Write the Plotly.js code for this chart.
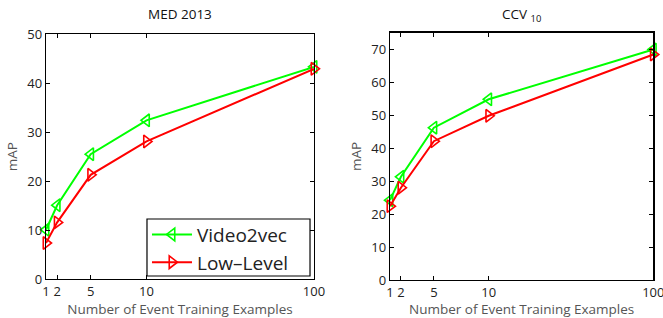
<!DOCTYPE html>
<html><head><meta charset="utf-8">
<script src="https://cdn.plot.ly/plotly-3.0.1.min.js"></script>
<style>html,body{margin:0;padding:0;background:#fff}#c{width:663px;height:318px}</style>
</head><body><div id="c"></div>
<script>
// x positions on the axis (100 drawn at position 25), with tick labels
const xPos = [1, 2, 5, 10, 25];
const xLabels = ['1', '2', '5', '10', '100'];
const medVideo2vec = [10.1, 15.1, 25.5, 32.4, 43.3];
const medLowLevel  = [7.4, 11.6, 21.3, 28.1, 42.9];
const ccvVideo2vec = [24.2, 31.3, 46.2, 54.8, 69.9];
const ccvLowLevel  = [22.4, 28.0, 42.1, 49.8, 68.4];
const seriesNames = ['Video2vec', 'Low\u2013Level'];
const green = '#00ff00', red = '#ff0000';
const font = 'Open Sans, Arial, sans-serif';

function tr(y, name, color, sym, xa, ya, show) {
  return {x: xPos, y: y, name: name, type: 'scatter', mode: 'lines+markers',
    xaxis: xa, yaxis: ya, showlegend: show, cliponaxis: false,
    line: {color: color, width: 2},
    marker: {symbol: sym, size: 11, color: color, line: {color: color, width: 1.6}}};
}
const data = [
  tr(medVideo2vec, seriesNames[0], green, 'triangle-left-open', 'x', 'y', true),
  tr(medLowLevel, seriesNames[1], red, 'triangle-right-open', 'x', 'y', true),
  tr(ccvVideo2vec, seriesNames[0], green, 'triangle-left-open', 'x2', 'y2', false),
  tr(ccvLowLevel, seriesNames[1], red, 'triangle-right-open', 'x2', 'y2', false)
];
function xax(dom, anchor) {
  return {domain: dom, anchor: anchor, range: [1, 25], tickmode: 'array', tickvals: xPos, ticktext: xLabels,
    ticks: 'inside', ticklen: 4, tickcolor: '#000', showline: true, linecolor: '#000', linewidth: 1.2,
    mirror: 'ticks', showgrid: false, zeroline: false, ticklabeloverflow: 'allow',
    tickfont: {family: font, size: 13, color: '#222'},
    title: {text: 'Number of Event Training Examples', font: {family: font, size: 13.5, color: '#555'}, standoff: 3}};
}
function yax(dom, anchor, max) {
  return {domain: dom, anchor: anchor, range: [0, max], dtick: 10, tick0: 0,
    ticks: 'inside', ticklen: 4, tickcolor: '#000', showline: true, linecolor: '#000', linewidth: 1.2,
    mirror: 'ticks', showgrid: false, zeroline: false, tickfont: {family: font, size: 13, color: '#222'},
    title: {text: 'mAP', font: {family: font, size: 13.5, color: '#555'}, standoff: 6}};
}
const layout = {
  width: 663, height: 318, margin: {l: 0, r: 0, t: 0, b: 0},
  paper_bgcolor: '#fff', plot_bgcolor: '#fff',
  xaxis: xax([0.0694, 0.4736], 'y'),
  yaxis: yax([0.1217, 0.8931], 'x', 50),
  xaxis2: xax([0.5882, 0.9854], 'y2'),
  yaxis2: yax([0.1195, 0.8972], 'x2', 75),
  legend: {x: 0.2217, y: 0.322, xanchor: 'left', yanchor: 'top', bgcolor: 'rgba(0,0,0,0)',
    borderwidth: 0, font: {family: font, size: 19, color: '#222'},
    tracegroupgap: 0, itemwidth: 40},
  shapes: [
    {type: 'rect', xref: 'paper', yref: 'paper', x0: 0.2217, x1: 0.4676, y0: 0.1321, y1: 0.3113,
      fillcolor: '#fff', line: {color: '#000', width: 1.2}, layer: 'above'}
  ],
  annotations: [
    {text: 'MED 2013', xref: 'paper', yref: 'paper', x: 0.2715, y: 0.922, xanchor: 'center', yanchor: 'bottom',
      showarrow: false, font: {family: font, size: 13.5, color: '#111'}},
    {text: 'CCV <sub>10</sub>', xref: 'paper', yref: 'paper', x: 0.787, y: 0.915, xanchor: 'center', yanchor: 'bottom',
      showarrow: false, font: {family: font, size: 13.5, color: '#111'}}
  ],
  showlegend: true
};
Plotly.newPlot('c', data, layout, {displayModeBar: false, staticPlot: true});
</script></body></html>
